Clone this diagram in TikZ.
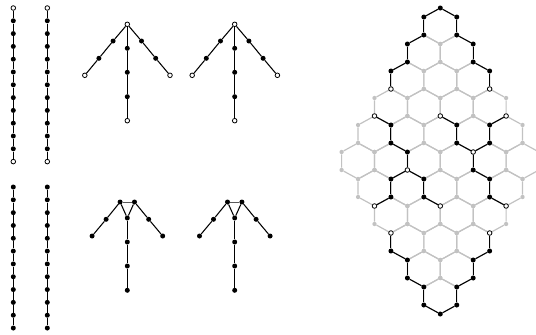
\documentclass[tikz,border=0pt]{standalone}
\usetikzlibrary{backgrounds}
\tikzset{
  x=1pt,y=-1pt,
  dotb/.style={circle,fill=black,draw=none,inner sep=0pt,minimum size=5pt},
  dotw/.style={circle,fill=white,draw=black,line width=0.8pt,inner sep=0pt,minimum size=4.6pt},
  dotg/.style={circle,fill=black!24,draw=none,inner sep=0pt,minimum size=4.3pt},
  edgeb/.style={draw=black,line width=1.05pt},
  edgeg/.style={draw=black!24,line width=1.2pt},
  edgeh/.style={draw=black!65,line width=0.9pt},
}
\newcommand{\chainpath}[6]{% name, x, y0, spacing, white ends?, count
  \foreach \i in {1,...,#6}{
    \pgfmathsetmacro{\yy}{#3+(\i-1)*#4}
    \pgfmathtruncatemacro{\isw}{(#5==1)&&(\i==1||\i==#6)?1:0}
    \ifnum\isw=1 \node[dotw] (#1\i) at (#2,\yy) {};
    \else \node[dotb] (#1\i) at (#2,\yy) {}; \fi
  }
  \begin{scope}[on background layer]
  \foreach \i [remember=\i as \j (initially 1)] in {2,...,#6}{
    \draw[edgeb] (#1\j) -- (#1\i);
  }
  \end{scope}
}
\begin{document}
\begin{tikzpicture}
\useasboundingbox (0,0) rectangle (536,335);
% chains
\chainpath{a}{13.3}{8}{12.8}{1}{13}
\chainpath{b}{47.3}{8}{12.8}{1}{13}
\chainpath{c}{13.3}{187}{12.82}{0}{12}
\chainpath{d}{47.3}{187}{12.82}{0}{12}
% upper spiders
\foreach \s/\ox in {p/127.3,q/234.7}{
  \node[dotw] (\s0) at (\ox,24.3) {};
  \node[dotb] (\s1) at (\ox-14.2,41) {};
  \node[dotb] (\s2) at (\ox-28.4,58.3) {};
  \node[dotw] (\s3) at (\ox-42.5,75.3) {};
  \node[dotb] (\s4) at (\ox+14.2,41) {};
  \node[dotb] (\s5) at (\ox+28.4,58.3) {};
  \node[dotw] (\s6) at (\ox+42.7,75.3) {};
  \node[dotb] (\s7) at (\ox,48.3) {};
  \node[dotb] (\s8) at (\ox,72.3) {};
  \node[dotb] (\s9) at (\ox,96.7) {};
  \node[dotw] (\s10) at (\ox,120.7) {};
  \begin{scope}[on background layer]
    \draw[edgeb] (\s0) -- (\s1) -- (\s2) -- (\s3);
    \draw[edgeb] (\s0) -- (\s4) -- (\s5) -- (\s6);
    \draw[edgeb] (\s0) -- (\s7) -- (\s8) -- (\s9) -- (\s10);
  \end{scope}
}
% lower spiders
\foreach \s/\ox in {r/127.3,t/234.7}{
  \node[dotb] (\s0) at (\ox-7.2,202) {};
  \node[dotb] (\s1) at (\ox+7.2,202) {};
  \node[dotb] (\s2) at (\ox-21.2,219.3) {};
  \node[dotb] (\s3) at (\ox-35.2,236) {};
  \node[dotb] (\s4) at (\ox+21.4,219.3) {};
  \node[dotb] (\s5) at (\ox+35.4,236) {};
  \node[dotb] (\s6) at (\ox,218) {};
  \node[dotb] (\s7) at (\ox,242) {};
  \node[dotb] (\s8) at (\ox,266) {};
  \node[dotb] (\s9) at (\ox,290.3) {};
  \begin{scope}[on background layer]
    \draw[edgeh] (\s0) -- (\s1);
    \draw[edgeb] (\s0) -- (\s2) -- (\s3);
    \draw[edgeb] (\s1) -- (\s4) -- (\s5);
    \draw[edgeb] (\s0) -- (\s6) -- (\s1);
    \draw[edgeb] (\s6) -- (\s7) -- (\s8) -- (\s9);
  \end{scope}
}
% hexagonal lattice: row top y, half-extent of centres
\foreach \ty/\m in {8/0,35/1,62/2,89/3,116/4,143/5,170/4,197/3,224/2,251/1,278/0}{
  \pgfmathtruncatemacro{\ya}{\ty+9}
  \pgfmathtruncatemacro{\yb}{\ty+27}
  \pgfmathtruncatemacro{\yc}{\ty+36}
  \foreach \n in {0,...,\m}{
    \pgfmathtruncatemacro{\k}{2*\n-\m}
    \pgfmathtruncatemacro{\kl}{\k-1}
    \pgfmathtruncatemacro{\kr}{\k+1}
    \pgfmathsetmacro{\xc}{440.3+16.45*\k}
    \pgfmathsetmacro{\xl}{440.3+16.45*\kl}
    \pgfmathsetmacro{\xr}{440.3+16.45*\kr}
    \node[dotg] (g\k y\ty) at (\xc,\ty) {};
    \node[dotg] (g\kl y\ya) at (\xl,\ya) {};
    \node[dotg] (g\kr y\ya) at (\xr,\ya) {};
    \node[dotg] (g\kl y\yb) at (\xl,\yb) {};
    \node[dotg] (g\kr y\yb) at (\xr,\yb) {};
    \node[dotg] (g\k y\yc) at (\xc,\yc) {};
    \draw[edgeg] (g\k y\ty) -- (g\kr y\ya) -- (g\kr y\yb) -- (g\k y\yc) -- (g\kl y\yb) -- (g\kl y\ya) -- (g\k y\ty);
  }
}
% marked vertices
\foreach \k/\y in {-3/71,-2/62,-2/44,-1/35,-1/17,0/8,1/17,1/35,2/44,2/62,3/71,
  -3/251,-2/260,-2/278,-1/287,-1/305,0/314,1/305,1/287,2/278,2/260,3/251,
  -3/125,-3/143,-2/152,-3/179,-3/197,-1/179,-1/197,
  1/125,1/143,3/143,3/125,2/170,3/179,3/197}{
  \node[dotb] (m\k y\y) at (g\k y\y) {};
}
\foreach \k/\y in {-3/89,3/89,-3/233,3/233,-4/116,-2/170,-4/206,0/206,0/116,2/152,4/116,4/206}{
  \node[dotw] (m\k y\y) at (g\k y\y) {};
}
\foreach \a/\b in {-3y89/-3y71,-3y71/-2y62,-2y62/-2y44,-2y44/-1y35,-1y35/-1y17,-1y17/0y8,0y8/1y17,1y17/1y35,1y35/2y44,2y44/2y62,2y62/3y71,3y71/3y89,
  -3y233/-3y251,-3y251/-2y260,-2y260/-2y278,-2y278/-1y287,-1y287/-1y305,-1y305/0y314,0y314/1y305,1y305/1y287,1y287/2y278,2y278/2y260,2y260/3y251,3y251/3y233,
  -4y116/-3y125,-3y125/-3y143,-3y143/-2y152,-2y152/-2y170,-2y170/-3y179,-3y179/-3y197,-3y197/-4y206,-2y170/-1y179,-1y179/-1y197,-1y197/0y206,
  0y116/1y125,1y125/1y143,1y143/2y152,2y152/3y143,3y143/3y125,3y125/4y116,2y152/2y170,2y170/3y179,3y179/3y197,3y197/4y206}{
  \draw[edgeb] (m\a) -- (m\b);
}
\end{tikzpicture}
\end{document}
